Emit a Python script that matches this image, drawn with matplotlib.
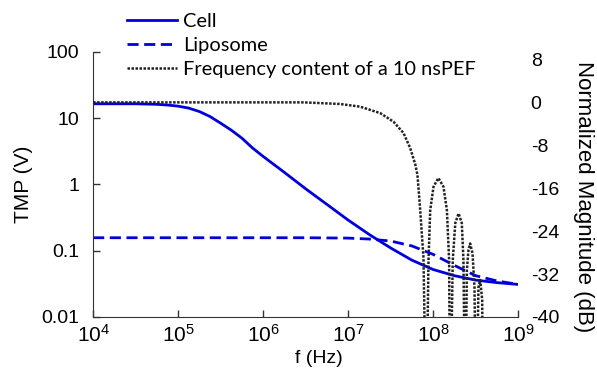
import numpy as np
import matplotlib
matplotlib.use("Agg")
import matplotlib.pyplot as plt

plt.rcParams["font.family"] = ["Liberation Sans", "DejaVu Sans"]
plt.rcParams["mathtext.fontset"] = "custom"
plt.rcParams["mathtext.rm"] = "Liberation Sans"
plt.rcParams["mathtext.it"] = "Liberation Sans"
plt.rcParams["axes.unicode_minus"] = False

# TMP curves (frequency in Hz, TMP in V)
f_tmp = [1e4, 10**4.25, 10**4.5, 10**4.75, 10**4.875, 1e5, 10**5.125, 10**5.25,
         10**5.375, 10**5.5, 10**5.625, 10**5.75, 10**5.875, 1e6, 10**6.25,
         10**6.5, 10**6.75, 1e7, 10**7.25, 10**7.5, 10**7.75,
         1e8, 10**8.25, 10**8.5, 10**8.75, 1e9]
tmp_cell = [16.5, 16.5, 16.5, 16.2, 15.8, 15.2, 14.2, 12.6,
            10.6, 8.4, 6.6, 5.0, 3.55, 2.65, 1.52,
            0.86, 0.5, 0.29, 0.175, 0.11, 0.072,
            0.052, 0.042, 0.036, 0.033, 0.031]
tmp_lipo = [0.157, 0.157, 0.157, 0.157, 0.157, 0.157, 0.157, 0.157,
            0.157, 0.157, 0.157, 0.157, 0.157, 0.157, 0.157,
            0.157, 0.156, 0.155, 0.150, 0.140, 0.118,
            0.088, 0.060, 0.042, 0.035, 0.031]

# frequency content of the 10 ns pulse (dB)
f_pef = [1e4, 1e5, 1e6, 3e6, 8.05e6, 1.38e7, 2.38e7, 3.41e7, 4.47e7, 5.36e7,
         6.14e7, 6.53e7, 7.03e7, 7.69e7, 8.28e7,
         8.81e7, 9.23e7, 1.01e8, 1.15e8, 1.32e8, 1.45e8, 1.54e8, 1.58e8,
         1.70e8, 1.82e8, 1.99e8, 2.17e8, 2.27e8, 2.38e8,
         2.49e8, 2.60e8, 2.72e8, 2.90e8, 3.06e8, 3.20e8,
         3.41e8, 3.57e8, 3.77e8, 3.85e8]
db_pef = [0, 0, 0, 0, -0.3, -0.8, -2.0, -3.6, -5.7, -8.5,
          -11.5, -13.5, -20, -29, -60,
          -29.4, -20.1, -15.7, -14.1, -15.7, -20.1, -29.4, -60,
          -29.4, -22.5, -20.7, -22.5, -29.4, -60,
          -31.3, -27.5, -26.3, -28.1, -34.4, -60,
          -34.4, -33.1, -36.8, -60]

fig = plt.figure(figsize=(5.97, 3.71), dpi=100)
ax = fig.add_axes([0.156, 0.1456, 0.712, 0.7144])

blue = "#0000dd"
l1, = ax.plot(f_tmp, tmp_cell, color=blue, lw=2.0, label="Cell")
l2, = ax.plot(f_tmp, tmp_lipo, color=blue, lw=2.0, ls=(0, (4, 2)), label="Liposome")
ax.set_xscale("log")
ax.set_yscale("log")
ax.set_xlim(1e4, 1e9)
ax.set_ylim(0.01, 100)
ax.set_yticks([0.01, 0.1, 1, 10, 100])
ax.set_yticklabels(["0.01", "0.1", "1", "10", "100"])
ax.set_xticks([1e4, 1e5, 1e6, 1e7, 1e8, 1e9])
ax.set_xticklabels([r"$10^{%d}$" % k for k in range(4, 10)])
ax.minorticks_off()
ax.tick_params(direction="in", length=5, width=1, labelsize=14, color="#333333")
ax.tick_params(axis="y", pad=10)
ax.tick_params(axis="x", pad=5, labelsize=15)
for s in ["top", "right"]:
    ax.spines[s].set_visible(False)
for s in ["left", "bottom"]:
    ax.spines[s].set_color("#333333")
ax.set_ylabel("TMP (V)", fontsize=15)
ax.set_xlabel("f (Hz)", fontsize=14)
ax.yaxis.set_label_coords(-0.141, 0.5)
ax.xaxis.set_label_coords(0.531, -0.125)

ax2 = ax.twinx()
l3, = ax2.plot(f_pef, db_pef, color="#222222", lw=1.8, ls=(0, (1, 0.6)),
               label="Frequency content of a 10 nsPEF")
ax2.set_ylim(-40, 9.4)
ax2.set_yticks([-40, -32, -24, -16, -8, 0, 8])
ax2.tick_params(length=0, labelsize=14, pad=9)
for s in ax2.spines.values():
    s.set_visible(False)
ax2.set_ylabel("Normalized Magnitude (dB)", fontsize=16, rotation=270)
ax2.yaxis.set_label_coords(1.178, 0.455)

fig.legend(handles=[l1, l2, l3], loc="upper left", bbox_to_anchor=(0.183, 1.0135),
           frameon=False, handlelength=2.5, handletextpad=0.3, labelspacing=0.35,
           prop={"family": "Lato", "size": 14.4})

fig.savefig("out.png", dpi=100)
